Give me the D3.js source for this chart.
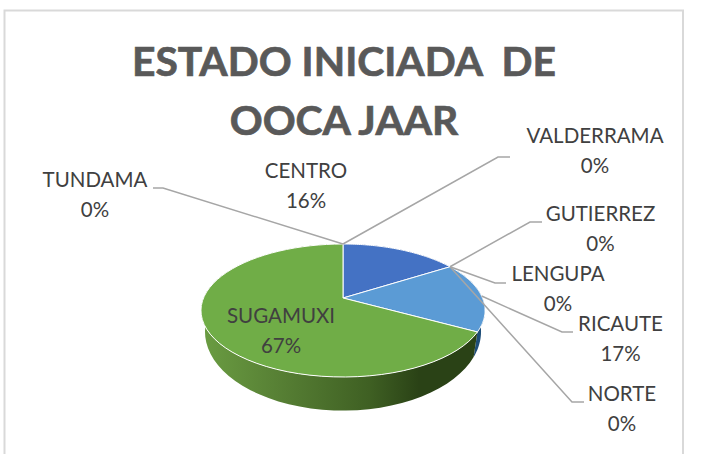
<!DOCTYPE html>
<html><head><meta charset="utf-8">
<script src="https://cdn.jsdelivr.net/npm/d3@7"></script>
<style>html,body{margin:0;background:#fff}svg{display:block}text{font-family:Lato,sans-serif}</style>
</head><body><svg id="c" width="705" height="454"></svg>
<script>
const titleLines = ["ESTADO INICIADA  DE", "OOCA JAAR"];
const categories = ["CENTRO","GUTIERREZ","LENGUPA","NORTE","RICAUTE","SUGAMUXI","TUNDAMA","VALDERRAMA"];
const values = [16,0,0,0,17,67,0,0];
const topColors = ["#4472c4","#ed7d31","#a5a5a5","#ffc000","#5b9bd5","#70ad47","#264478","#9e480e"];
const wallColors = ["#2a4a85","#9e480e","#636363","#997300","#1f4e79","url(#gw)","#162a4a","#5e2b08"];
// layout only
const labelPos = {CENTRO:[306,178],GUTIERREZ:[600.5,221],LENGUPA:[558,281],NORTE:[622,401],RICAUTE:[620.5,331],SUGAMUXI:[281,323],TUNDAMA:[95,187],VALDERRAMA:[595,143]};
const leaders = {GUTIERREZ:[[530,222],[542,222]],LENGUPA:[[495,283],[506,283]],NORTE:[[572,402],[584,402]],RICAUTE:[[562,332],[573,332]],TUNDAMA:[[163,188],[153,188]],VALDERRAMA:[[498,157],[510,157]]};

const svg = d3.select("#c");
const cx=343, apexY=298, R=139.5, C=64.15, P=0.188, ecY=310, erx=142, ery=66.5, brx=138, bCY=331, bry=79;
// perspective projection of a circle angle (clockwise from top)
const proj = a => { const x=Math.sin(a), y=-Math.cos(a), d=1-P*y; return [cx+R*x/d, apexY+C*y/d]; };
const lower = ([x,y]) => [cx+(x-cx)/erx*brx, bCY+(y-ecY)/ery*bry];
const line = d3.line();
const arcPts = (a0,a1) => d3.range(0,61).map(i=>proj(a0+(a1-a0)*i/60));

const g = svg.append("linearGradient").attr("id","gw").attr("gradientUnits","userSpaceOnUse").attr("x1",203).attr("x2",480).attr("y1",0).attr("y2",0);
[[0,"#6a9c42"],[.3,"#557d33"],[.6,"#3f6023"],[.78,"#2a4216"],[1,"#2a4216"]].forEach(([o,c])=>g.append("stop").attr("offset",o).attr("stop-color",c));

svg.append("rect").attr("x",4.5).attr("y",10.5).attr("width",678.5).attr("height",470).attr("fill","#fff").attr("stroke","#d9d9d9").attr("stroke-width",2);

const arcs = d3.pie().sort(null).value(d=>d)(values);
const live = arcs.filter(d=>d.value>0);

svg.append("g").selectAll("path").data(live).join("path")
  .attr("d",d=>{const t=arcPts(d.startAngle,d.endAngle); return line(t.concat(t.map(lower).reverse()))+"Z";})
  .attr("fill",d=>wallColors[d.index]);
svg.append("g").selectAll("path").data(live).join("path")
  .attr("d",d=>line([[cx,apexY],...arcPts(d.startAngle,d.endAngle)])+"Z")
  .attr("fill",d=>topColors[d.index]).attr("stroke","#fff").attr("stroke-width",1).attr("stroke-linejoin","round");

const anchorOf = d => d.value>0 ? proj((d.startAngle+d.endAngle)/2) : proj(d.startAngle);
svg.append("g").selectAll("path").data(arcs.filter(d=>leaders[categories[d.index]])).join("path")
  .attr("d",d=>line([anchorOf(d),...leaders[categories[d.index]]]))
  .attr("fill","none").attr("stroke","#a6a6a6").attr("stroke-width",1.5);

const total = d3.sum(values);
const lab = svg.append("g").attr("fill","#404040").attr("font-size",20.5).attr("text-anchor","middle");
arcs.forEach(d=>{
  const n=categories[d.index], [x,y]=labelPos[n];
  lab.append("text").attr("x",x).attr("y",y).text(n);
  lab.append("text").attr("x",x).attr("y",y+30).text(d3.format(".0%")(d.value/total));
});
svg.append("g").selectAll("text").data(titleLines).join("text")
  .attr("x",344).attr("y",(d,i)=>76+i*59).attr("text-anchor","middle")
  .attr("font-size",40.8).attr("font-weight",700).attr("fill","#595959").attr("stroke","#595959").attr("stroke-width",0.7)
  .attr("xml:space","preserve").style("white-space","pre").text(d=>d);
</script></body></html>
